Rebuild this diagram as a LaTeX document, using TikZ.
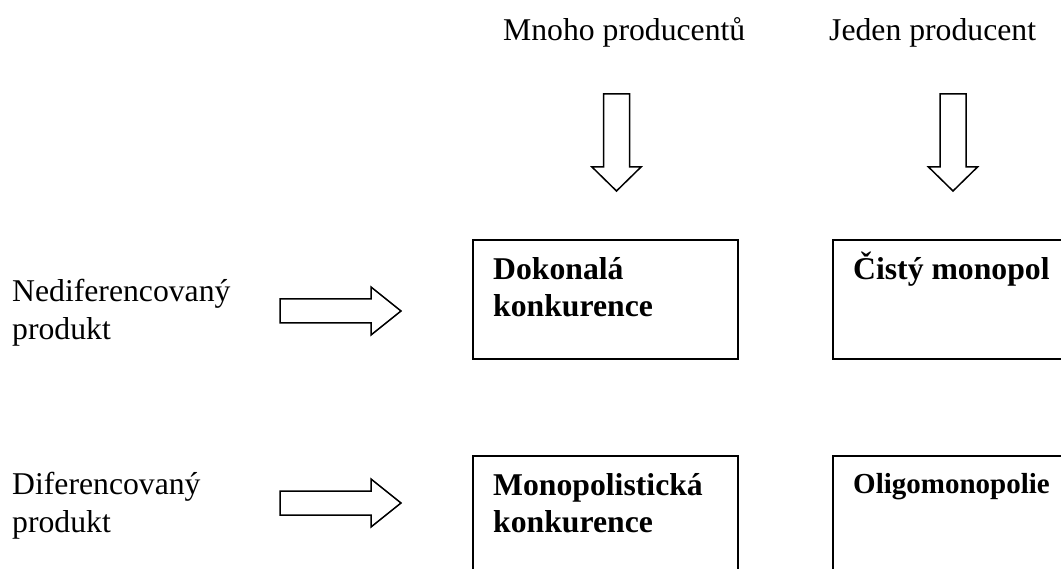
\documentclass[tikz,border=0pt]{standalone}
\usepackage{fontspec}
\setmainfont{Liberation Serif}
\begin{document}
\begin{tikzpicture}[x=1pt,y=-1pt,
  txt/.style={inner sep=0pt, anchor=base west, align=left,
    font=\fontsize{31.7}{38}\selectfont},
  boldtxt/.style={txt, font=\fontsize{31.7}{37}\selectfont\bfseries},
  cell/.style={draw, line width=1.6pt, rectangle, inner sep=0pt,
    minimum width=265pt, minimum height=119pt, anchor=north west},
  blockarrow/.style={draw, line width=1.5pt, line join=miter, fill=white}]
  \useasboundingbox (0,0) rectangle (1061,569);
  \clip (0,0) rectangle (1061,569);

  % column headings
  \node[txt] (many) at (503,41) {Mnoho producentů};
  \node[txt] (one)  at (829,41) {Jeden producent};

  % row headings (anchor is the baseline of the last line)
  \node[txt] (undiff) at (12,340) {Nediferencovaný\\produkt};
  \node[txt] (diff)   at (12,532) {Diferencovaný\\produkt};

  % market-structure cells
  \node[cell] (perfect)  at (472,239) {};
  \node[cell] (pure)     at (832,239) {};
  \node[cell] (monocomp) at (472,455) {};
  \node[cell] (oligo)    at (832,455) {};

  \node[boldtxt] (t1) at ([xshift=21pt,yshift=-78pt]perfect.north west) {Dokonalá\\konkurence};
  \node[boldtxt] (t2) at ([xshift=21pt,yshift=-41pt]pure.north west) {Čistý monopol};
  \node[boldtxt] (t3) at ([xshift=21pt,yshift=-77pt]monocomp.north west) {Monopolistická\\konkurence};
  \node[txt, font=\fontsize{29}{34}\selectfont\bfseries] (t4)
    at ([xshift=21pt,yshift=-38pt]oligo.north west) {Oligomonopolie};

  % hollow block arrows
  \foreach \cx in {616.5,953}{
    \draw[blockarrow] (\cx-13,94) -- (\cx+13,94) -- (\cx+13,167) -- (\cx+24.5,167)
      -- (\cx,191) -- (\cx-24.5,167) -- (\cx-13,167) -- cycle;
  }
  \foreach \cy in {311,503}{
    \draw[blockarrow] (280,\cy-12) -- (371,\cy-12) -- (371,\cy-24) -- (401,\cy)
      -- (371,\cy+24) -- (371,\cy+12) -- (280,\cy+12) -- cycle;
  }
\end{tikzpicture}
\end{document}
